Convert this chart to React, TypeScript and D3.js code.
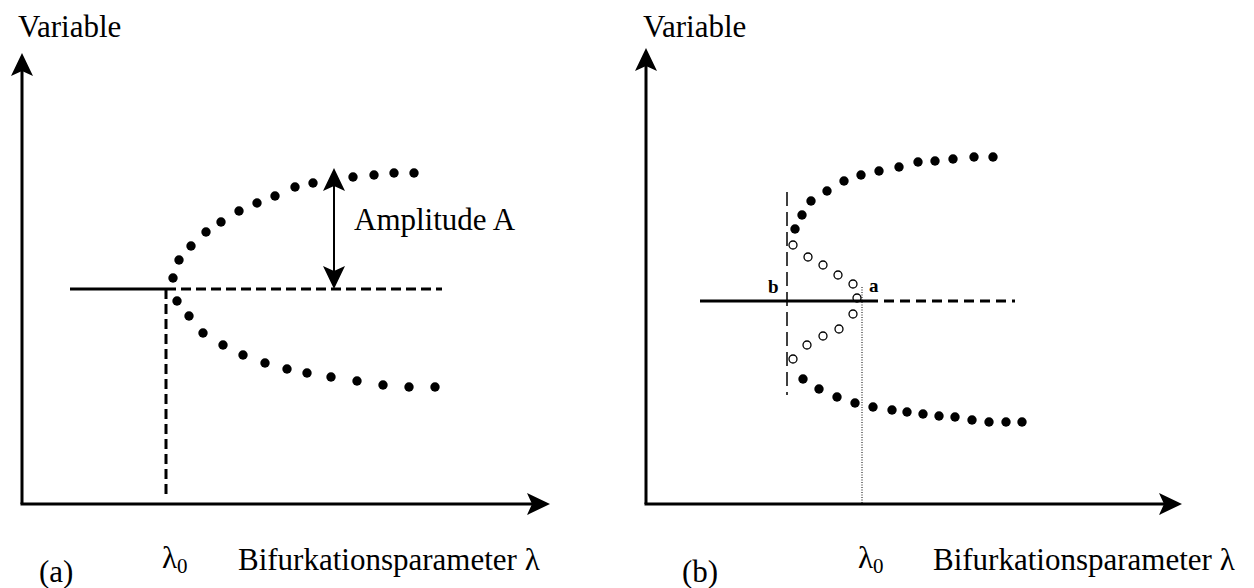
import React, { useEffect, useRef } from "react";
import * as d3 from "d3";

// panel (a): supercritical Hopf, lambda measured from lambda0, variable from the equilibrium
const aUpper: [number, number][] = [
  [0.7, 1.1], [1.3, 2.9], [2.5, 4.3], [4.0, 5.7], [5.5, 6.7], [7.3, 7.8], [9.1, 8.6],
  [10.9, 9.3], [12.9, 10.2], [14.7, 10.6], [18.7, 11.2], [20.8, 11.4], [22.8, 11.6], [24.8, 11.6],
];
const aLower: [number, number][] = [
  [1.1, -1.2], [2.3, -2.7], [3.7, -4.4], [5.7, -5.6], [7.7, -6.6], [9.9, -7.4], [12.1, -8.0],
  [14.1, -8.4], [16.5, -8.8], [19.1, -9.2], [21.7, -9.6], [24.3, -9.8], [26.9, -9.8],
];
const aStable: [number, number] = [-9.6, 0];
const aUnstable: [number, number] = [0, 27.6];
const aAmplitudeX = 16.8;
const aAmplitude = 12.1;

// panel (b): subcritical Hopf with hysteresis
const bUpper: [number, number][] = [
  [-6.7, 7.2], [-6.0, 8.6], [-5.1, 10.0], [-3.5, 11.0], [-1.8, 12.0], [-0.1, 12.6], [1.7, 13.0],
  [3.7, 13.4], [5.6, 13.9], [7.3, 14.0], [9.1, 14.2], [11.2, 14.4], [13.1, 14.4],
];
const bLower: [number, number][] = [
  [-5.9, -7.8], [-4.3, -8.8], [-2.5, -9.6], [-0.7, -10.2], [1.1, -10.6], [3.0, -10.9], [4.5, -11.1],
  [6.1, -11.3], [7.7, -11.5], [9.3, -11.6], [11.0, -11.9], [12.7, -12.1], [14.4, -12.1], [16.0, -12.1],
];
const bOpenUpper: [number, number][] = [
  [-6.9, 5.6], [-5.4, 4.4], [-3.9, 3.6], [-2.4, 2.6], [-0.9, 1.7], [-0.5, 0.3],
];
const bOpenLower: [number, number][] = [
  [-0.9, -1.3], [-2.3, -2.8], [-3.9, -3.5], [-5.5, -4.4], [-6.9, -5.8],
];
const bStable: [number, number] = [-16.2, 0.6];
const bUnstable: [number, number] = [0.6, 15.3];
const bFoldX = -7.5;
const bFoldRange: [number, number] = [10.9, -9.4];
const bDottedTop = 1.4;

const font = "'Liberation Serif', 'Times New Roman', serif";

function arrowHead(g: any, x: number, y: number, angle: number) {
  // concave arrow head pointing along angle (deg), tip at x,y
  g.append("path")
    .attr("d", "M0,0 L-23,-11 L-18,0 L-23,11 Z")
    .attr("transform", `translate(${x},${y}) rotate(${angle})`)
    .attr("fill", "#000");
}

function drawAxes(g: any, x: any, y: any) {
  const [x0, x1] = x.range();
  const [y0, y1] = y.range();
  g.append("line")
    .attr("x1", x0).attr("y1", y0).attr("x2", x0).attr("y2", y1 + 15)
    .attr("stroke", "#000").attr("stroke-width", 3);
  arrowHead(g, x0, y1, -90);
  g.append("line")
    .attr("x1", x0 - 1.5).attr("y1", y0).attr("x2", x1 - 15).attr("y2", y0)
    .attr("stroke", "#000").attr("stroke-width", 3);
  arrowHead(g, x1, y0, 0);
}

export default function App() {
  const ref = useRef<SVGSVGElement>(null);

  useEffect(() => {
    const svg = d3.select(ref.current);
    svg.selectAll("*").remove();

    // ---------- panel (a)
    const ga = svg.append("g");
    const xa = d3.scaleLinear().domain([-14.4, 38.4]).range([22, 550]);
    const ya = d3.scaleLinear().domain([-21.5, 23.6]).range([504, 53]);
    drawAxes(ga, xa, ya);

    ga.append("line")
      .attr("x1", xa(aStable[0])).attr("x2", xa(aStable[1]))
      .attr("y1", ya(0)).attr("y2", ya(0))
      .attr("stroke", "#000").attr("stroke-width", 3);
    ga.append("line")
      .attr("x1", xa(aUnstable[0])).attr("x2", xa(aUnstable[1]))
      .attr("y1", ya(0)).attr("y2", ya(0))
      .attr("stroke", "#000").attr("stroke-width", 3)
      .attr("stroke-dasharray", "10,5");
    ga.append("line")
      .attr("x1", xa(0)).attr("x2", xa(0))
      .attr("y1", ya(0)).attr("y2", ya.range()[0] - 9)
      .attr("stroke", "#000").attr("stroke-width", 3)
      .attr("stroke-dasharray", "10,5");

    ga.selectAll(".dot")
      .data(aUpper.concat(aLower))
      .join("circle")
      .attr("cx", (d) => xa(d[0]))
      .attr("cy", (d) => ya(d[1]))
      .attr("r", 4.7)
      .attr("fill", "#000");

    // amplitude double arrow
    ga.append("line")
      .attr("x1", xa(aAmplitudeX)).attr("x2", xa(aAmplitudeX))
      .attr("y1", ya(0) - 18).attr("y2", ya(aAmplitude) + 18)
      .attr("stroke", "#000").attr("stroke-width", 2);
    arrowHead(ga, xa(aAmplitudeX), ya(aAmplitude), -90);
    arrowHead(ga, xa(aAmplitudeX), ya(0), 90);

    ga.append("text").attr("x", 354).attr("y", 230).text("Amplitude A");
    ga.append("text").attr("x", 18).attr("y", 37).text("Variable");
    ga.append("text").attr("x", 39).attr("y", 582).text("(a)");
    const la = ga.append("text").attr("x", 162).attr("y", 568);
    la.append("tspan").text("λ");
    la.append("tspan").attr("dy", 5).style("font-size", "21px").text("0");
    ga.append("text").attr("x", 238).attr("y", 570).text("Bifurkationsparameter λ");

    // ---------- panel (b)
    const gb = svg.append("g");
    const xb = d3.scaleLinear().domain([-21.6, 32.0]).range([646, 1182]);
    const yb = d3.scaleLinear().domain([-20.3, 25.3]).range([504, 48]);
    drawAxes(gb, xb, yb);

    gb.append("line")
      .attr("x1", xb(bFoldX)).attr("x2", xb(bFoldX))
      .attr("y1", yb(bFoldRange[0])).attr("y2", yb(bFoldRange[1]))
      .attr("stroke", "#000").attr("stroke-width", 1.5)
      .attr("stroke-dasharray", "14,6");
    gb.append("line")
      .attr("x1", xb(0)).attr("x2", xb(0))
      .attr("y1", yb(bDottedTop)).attr("y2", yb.range()[0])
      .attr("stroke", "#000").attr("stroke-width", 1)
      .attr("stroke-dasharray", "1,1.5");
    gb.append("line")
      .attr("x1", xb(bStable[0])).attr("x2", xb(bStable[1]))
      .attr("y1", yb(0)).attr("y2", yb(0))
      .attr("stroke", "#000").attr("stroke-width", 3);
    gb.append("line")
      .attr("x1", xb(bUnstable[0])).attr("x2", xb(bUnstable[1]))
      .attr("y1", yb(0)).attr("y2", yb(0))
      .attr("stroke", "#000").attr("stroke-width", 3)
      .attr("stroke-dasharray", "10,6");

    gb.selectAll(".dot")
      .data(bUpper.concat(bLower))
      .join("circle")
      .attr("cx", (d) => xb(d[0]))
      .attr("cy", (d) => yb(d[1]))
      .attr("r", 4.7)
      .attr("fill", "#000");
    gb.selectAll(".open")
      .data(bOpenUpper.concat(bOpenLower))
      .join("circle")
      .attr("class", "open")
      .attr("cx", (d) => xb(d[0]))
      .attr("cy", (d) => yb(d[1]))
      .attr("r", 4)
      .attr("fill", "none")
      .attr("stroke", "#000")
      .attr("stroke-width", 1.3);

    gb.append("text").attr("x", 768).attr("y", 293)
      .style("font-size", "19px").style("font-weight", "bold").text("b");
    gb.append("text").attr("x", 869).attr("y", 292)
      .style("font-size", "19px").style("font-weight", "bold").text("a");

    gb.append("text").attr("x", 643).attr("y", 37).text("Variable");
    gb.append("text").attr("x", 682).attr("y", 582).text("(b)");
    const lb = gb.append("text").attr("x", 858).attr("y", 568);
    lb.append("tspan").text("λ");
    lb.append("tspan").attr("dy", 5).style("font-size", "21px").text("0");
    gb.append("text").attr("x", 933).attr("y", 570).text("Bifurkationsparameter λ");

    svg.selectAll("text")
      .style("font-family", font)
      .filter(function () {
        return !(this as SVGTextElement).style.fontSize;
      })
      .style("font-size", "31px");
  }, []);

  return (
    <svg
      ref={ref}
      width={1254}
      height={588}
      style={{ position: "absolute", left: 0, top: 0, background: "#fff" }}
    />
  );
}
